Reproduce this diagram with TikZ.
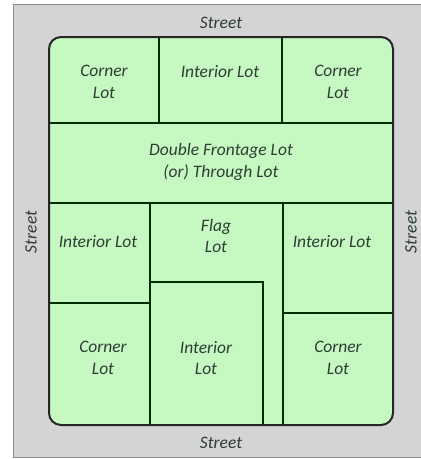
\documentclass[tikz,border=0pt]{standalone}
\usepackage{fontspec}
\setmainfont{Carlito}
\begin{document}
\begin{tikzpicture}[x=1pt,y=-1pt,
  streetbg/.style={fill=streetgray,draw=bordergray,line width=1pt},
  block/.style={fill=lotgreen},
  outline/.style={draw=black!85,line width=2pt,rounded corners=12pt},
  divider/.style={draw=black!30!green!25!black,line width=1.3pt},
  lbl/.style={font=\fontsize{17.5}{21.5}\selectfont\itshape,text=textgray,align=center,inner sep=0pt}]
\definecolor{streetgray}{HTML}{D4D4D4}
\definecolor{bordergray}{HTML}{8A8A8A}
\definecolor{lotgreen}{HTML}{C6F8C2}
\definecolor{textgray}{HTML}{2E3D33}
\useasboundingbox (0,0) rectangle (421,459);
% streets around the block
\path[streetbg] (13,4) rectangle (425,457);
% the block
\path[block,rounded corners=12pt] (49,37) rectangle (393,425);
% lot lines
\draw[divider] (49,123) -- (393,123);
\draw[divider] (49,203) -- (393,203);
\draw[divider] (159,37) -- (159,123);
\draw[divider] (282,37) -- (282,123);
\draw[divider] (150,203) -- (150,425);
\draw[divider] (283,203) -- (283,425);
\draw[divider] (49,303) -- (150,303);
\draw[divider] (283,313) -- (393,313);
\draw[divider] (150,282) -- (263,282) -- (263,425);
\draw[outline] (49,37) rectangle (393,425);
% labels
\node[lbl] (st) at (221,23) {Street};
\node[lbl] (sb) at (221,443) {Street};
\node[lbl,rotate=90] (sl) at (31,232) {Street};
\node[lbl,rotate=90] (sr) at (411,232) {Street};
\node[lbl] (c1) at (104,82) {Corner\\Lot};
\node[lbl] (i1) at (220,72) {Interior Lot};
\node[lbl] (c2) at (338,82) {Corner\\Lot};
\node[lbl] (df) at (221,162) {Double Frontage Lot\\(or) Through Lot};
\node[lbl] (i2) at (98,242) {Interior Lot};
\node[lbl] (fl) at (216,236) {Flag\\Lot};
\node[lbl] (i3) at (332,242) {Interior Lot};
\node[lbl] (c3) at (103,358) {Corner\\Lot};
\node[lbl] (i4) at (206,358) {Interior\\Lot};
\node[lbl] (c4) at (338,358) {Corner\\Lot};
\end{tikzpicture}
\end{document}
